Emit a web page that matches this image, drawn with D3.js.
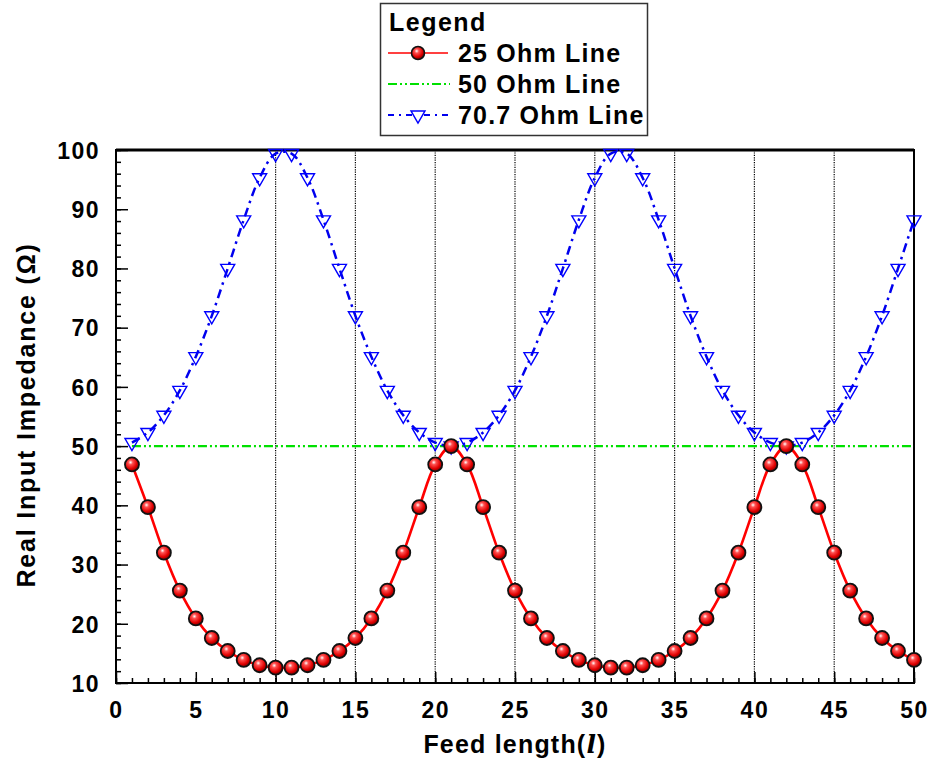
<!DOCTYPE html>
<html><head><meta charset="utf-8">
<script src="https://cdn.jsdelivr.net/npm/d3@7"></script>
<style>
body{margin:0;background:#fff;}
text{font-family:"Liberation Sans",Arial,sans-serif;font-weight:bold;}
</style></head>
<body><svg id="chart" width="932" height="763"></svg>
<script>
const feedLength = d3.range(1, 51);
const ohm25 = [46.9,39.7,32.0,25.6,20.9,17.6,15.4,13.9,13.0,12.6,12.6,13.0,13.9,15.4,17.6,20.9,25.6,32.0,39.7,46.9,50.0,
  46.9,39.7,32.0,25.6,20.9,17.6,15.4,13.9,13.0,12.6,12.6,13.0,13.9,15.4,17.6,20.9,25.6,32.0,39.7,46.9,50.0,
  46.9,39.7,32.0,25.6,20.9,17.6,15.4,13.9];
const ohm50 = feedLength.map(() => 50);
const ohm707 = [50.6,52.3,55.2,59.4,65.1,72.0,80.0,88.2,95.3,99.4,99.4,95.3,88.2,80.0,72.0,65.1,59.4,55.2,52.3,50.6,50.0,
  50.6,52.3,55.2,59.4,65.1,72.0,80.0,88.2,95.3,99.4,99.4,95.3,88.2,80.0,72.0,65.1,59.4,55.2,52.3,50.6,50.0,
  50.6,52.3,55.2,59.4,65.1,72.0,80.0,88.2];
const xTicks = [0,5,10,15,20,25,30,35,40,45,50];
const yTicks = [10,20,30,40,50,60,70,80,90,100];
const gridX = [10,15,20,25,30,35,40,45];
const legendLabels = ["25 Ohm Line","50 Ohm Line","70.7 Ohm Line"];

const svg = d3.select("#chart");
const L = 116, R = 914, T = 150, B = 683;
const x = d3.scaleLinear().domain([0,50]).range([L,R]);
const y = d3.scaleLinear().domain([10,100]).range([B,T]);

const defs = svg.append("defs");
const g = defs.append("radialGradient").attr("id","ball").attr("cx","40%").attr("cy","35%").attr("r","65%");
g.append("stop").attr("offset","0%").attr("stop-color","#ffffff");
g.append("stop").attr("offset","25%").attr("stop-color","#ff5050");
g.append("stop").attr("offset","70%").attr("stop-color","#e00000");
g.append("stop").attr("offset","100%").attr("stop-color","#800000");
defs.append("clipPath").attr("id","plotclip").append("rect")
  .attr("x",L-8).attr("y",T-8).attr("width",R-L+16).attr("height",B-T+16);

// gridlines
svg.append("g").selectAll("line").data(gridX).join("line")
  .attr("x1",d=>x(d)).attr("x2",d=>x(d)).attr("y1",T).attr("y2",B)
  .attr("stroke","#000").attr("stroke-width",1.2).attr("stroke-dasharray","1.2,1.2");

// axes with inward ticks
const xMinor = d3.axisBottom(x).tickValues(d3.range(0,51)).tickSize(-5).tickFormat("");
const xMajor = d3.axisBottom(x).tickValues(xTicks).tickSize(-11).tickPadding(19);
const gxm = svg.append("g").attr("transform",`translate(0,${B})`).call(xMinor);
const gx = svg.append("g").attr("transform",`translate(0,${B})`).call(xMajor);
const yMinor = d3.axisLeft(y).tickValues(d3.range(10,101,2)).tickSize(-5).tickFormat("");
const yMajor = d3.axisLeft(y).tickValues(yTicks).tickSize(-12).tickPadding(16);
const gym = svg.append("g").attr("transform",`translate(${L},0)`).call(yMinor);
const gy = svg.append("g").attr("transform",`translate(${L},0)`).call(yMajor);
[gxm,gx,gym,gy].forEach(a=>{
  a.select(".domain").remove();
  a.selectAll(".tick line").attr("stroke","#000").attr("stroke-width",1.5);
});
[gx,gy].forEach(a=>a.selectAll(".tick text").attr("font-size",23).attr("letter-spacing","1.5px")
  .attr("font-family","Liberation Sans, Arial").attr("font-weight","bold").attr("fill","#000"));
gy.selectAll(".tick text").attr("dy","0.36em");

// frame
svg.append("rect").attr("x",L).attr("y",T).attr("width",R-L).attr("height",B-T)
  .attr("fill","none").attr("stroke","#000").attr("stroke-width",2);
svg.append("line").attr("x1",L).attr("x2",R).attr("y1",T).attr("y2",T).attr("stroke","#000").attr("stroke-width",3);

const plot = svg.append("g").attr("clip-path","url(#plotclip)");
const line = d3.line().x((d,i)=>x(feedLength[i])).y(d=>y(d));
const lineSmooth = d3.line().x((d,i)=>x(feedLength[i])).y(d=>y(d)).curve(d3.curveCatmullRom);

// 50 ohm
plot.append("path").attr("d",line(ohm50)).attr("fill","none").attr("stroke","#00e000")
  .attr("stroke-width",2.2).attr("stroke-dasharray","9,3,2,3,2,3");
// 70.7 ohm
plot.append("path").attr("d",lineSmooth(ohm707)).attr("fill","none").attr("stroke","#0000ee")
  .attr("stroke-width",2.5).attr("stroke-dasharray","9,5,2.5,5");
const tri = d3.symbol().type(d3.symbolTriangle).size(85);
plot.append("g").selectAll("path").data(ohm707).join("path")
  .attr("d",tri).attr("transform",(d,i)=>`translate(${x(feedLength[i])},${y(d)}) rotate(180)`)
  .attr("fill","#fff").attr("fill-opacity",0.0).attr("stroke","#0000ff").attr("stroke-width",1.4);
// 25 ohm
plot.append("path").attr("d",lineSmooth(ohm25)).attr("fill","none").attr("stroke","#ff0000").attr("stroke-width",2.6);
plot.append("g").selectAll("circle").data(ohm25).join("circle")
  .attr("cx",(d,i)=>x(feedLength[i])).attr("cy",d=>y(d)).attr("r",7)
  .attr("fill","url(#ball)").attr("stroke","#111").attr("stroke-width",1.8);

// axis titles
svg.append("text").attr("x",515).attr("y",753).attr("text-anchor","middle").attr("font-size",25).attr("letter-spacing","1.2px")
  .call(t=>{t.append("tspan").text("Feed length(");t.append("tspan").attr("font-style","italic").attr("font-family","DejaVu Serif").text("l");t.append("tspan").text(")");});
svg.append("text").attr("transform","translate(35,415) rotate(-90)").attr("text-anchor","middle")
  .attr("font-size",25).attr("letter-spacing","1.8px").text("Real Input Impedance (Ω)");

// legend
const lg = svg.append("g");
lg.append("rect").attr("x",380.5).attr("y",3.5).attr("width",267).attr("height",132)
  .attr("fill","#fff").attr("stroke","#333").attr("stroke-width",1.5);
lg.append("text").attr("x",389).attr("y",31).attr("font-size",25).attr("letter-spacing","1.5px").text("Legend");
const ly = [53,84,115];
lg.selectAll(".lt").data(legendLabels).join("text").attr("class","lt")
  .attr("x",458).attr("y",(d,i)=>ly[i]+9).attr("font-size",25).attr("letter-spacing","1.2px").text(d=>d);
lg.append("line").attr("x1",388).attr("x2",448).attr("y1",ly[0]).attr("y2",ly[0]).attr("stroke","#ff0000").attr("stroke-width",1.5);
lg.append("circle").attr("cx",418).attr("cy",ly[0]).attr("r",6.5).attr("fill","url(#ball)").attr("stroke","#111").attr("stroke-width",1.6);
lg.append("line").attr("x1",388).attr("x2",450).attr("y1",ly[1]).attr("y2",ly[1]).attr("stroke","#00e000").attr("stroke-width",2.2).attr("stroke-dasharray","9,3,2,3,2,3");
lg.append("line").attr("x1",388).attr("x2",450).attr("y1",ly[2]).attr("y2",ly[2]).attr("stroke","#0000ee").attr("stroke-width",2.2).attr("stroke-dasharray","6,5,2,5");
lg.append("path").attr("d",tri).attr("transform",`translate(418,${ly[2]}) rotate(180)`).attr("fill","#fff").attr("stroke","#0000ff").attr("stroke-width",1.4);
</script></body></html>
